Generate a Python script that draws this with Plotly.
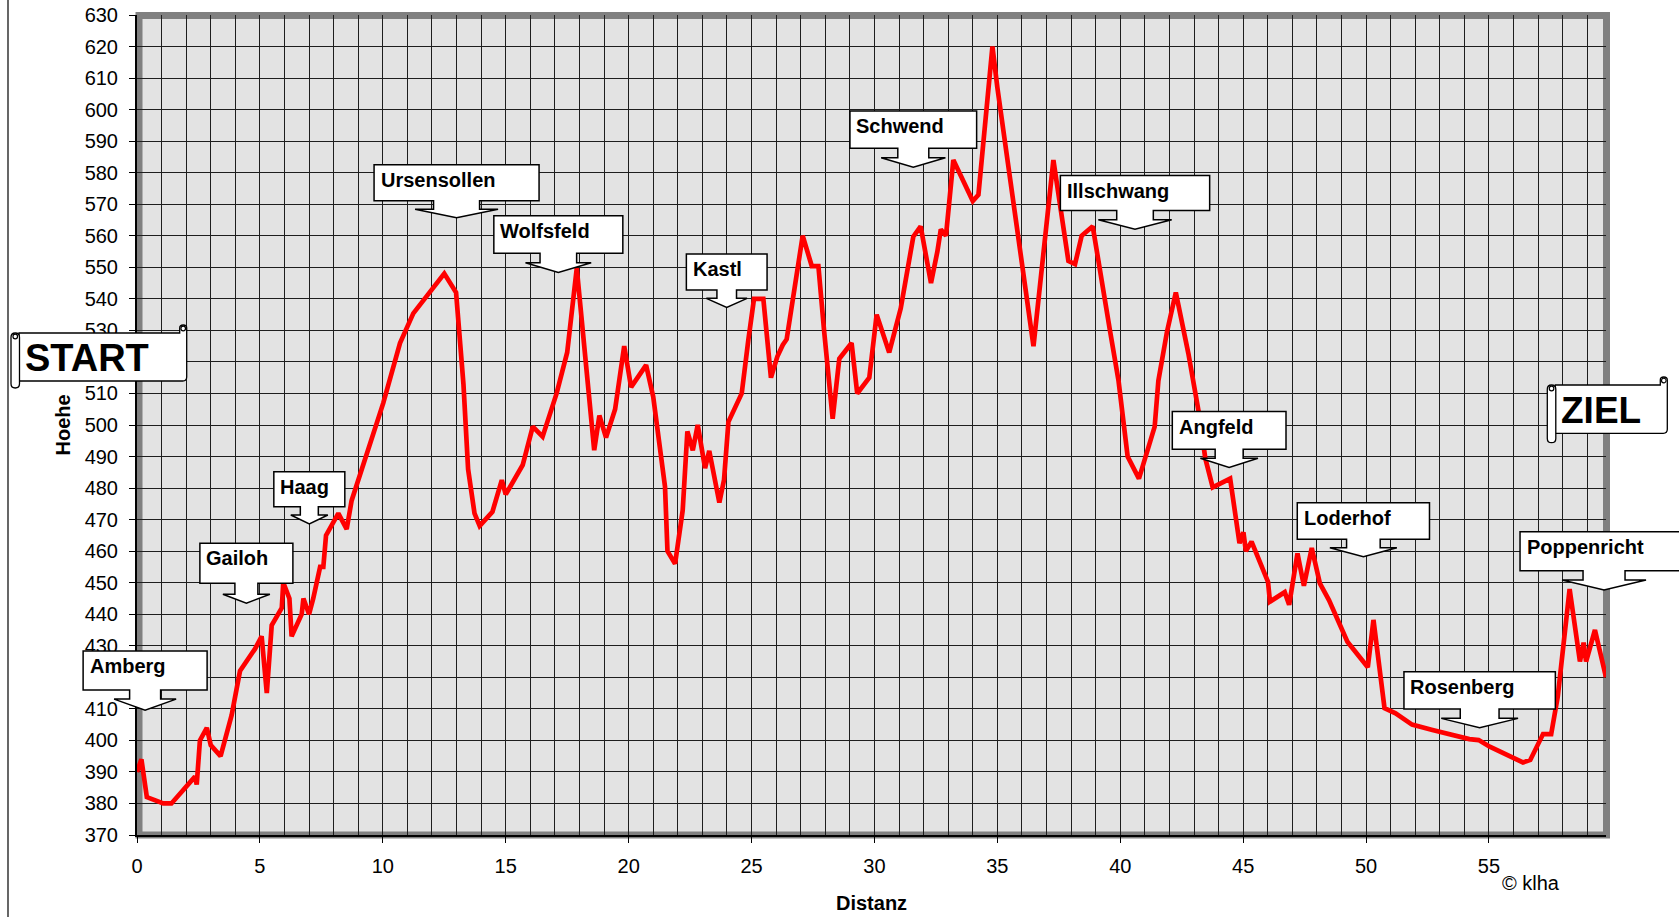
import plotly.graph_objects as go

# ---------------- data ----------------
distanz_km = [0.0, 0.18, 0.4, 1.07, 1.4, 2.36, 2.43, 2.56, 2.84, 3.0, 3.4, 3.85, 4.19, 4.8, 5.07,
              5.28, 5.48, 5.89, 5.95, 6.2, 6.29, 6.7, 6.77, 7.0, 7.17, 7.45, 7.58, 7.69, 8.19,
              8.53, 8.73, 10.02, 10.7, 11.24, 12.5, 12.98, 13.28, 13.47, 13.73, 13.94, 14.46,
              14.84, 15.0, 15.69, 16.1, 16.5, 17.07, 17.5, 17.89, 18.16, 18.6, 18.81, 19.08,
              19.45, 19.82, 20.1, 20.71, 21.0, 21.48, 21.58, 21.89, 22.2, 22.39, 22.61, 22.81,
              23.11, 23.28, 23.69, 23.88, 24.06, 24.6, 24.87, 25.1, 25.48, 25.79, 26.05, 26.27,
              26.43, 27.08, 27.45, 27.72, 27.95, 28.3, 28.57, 29.07, 29.3, 29.79, 30.09, 30.6,
              31.07, 31.58, 31.88, 32.3, 32.56, 32.7, 32.91, 33.21, 34.0, 34.23, 34.8, 35.0,
              36.47, 37.28, 37.89, 38.16, 38.43, 38.88, 39.58, 39.93, 40.3, 40.76, 41.4, 41.55,
              41.9, 42.26, 42.77, 43.2, 43.46, 43.76, 44.47, 44.85, 45.01, 45.11, 45.34, 46.01,
              46.09, 46.69, 46.87, 47.21, 47.47, 47.79, 48.12, 48.49, 49.24, 50.07, 50.3, 50.75,
              51.2, 51.87, 52.7, 54.2, 54.58, 55.03, 56.38, 56.68, 57.2, 57.53, 57.8, 58.28,
              58.7, 58.85, 58.95, 59.31, 59.76]
hoehe_m = [390, 394, 382, 380, 380, 388.5, 386, 400, 404, 398.5, 395, 408, 422, 429, 433,
           415, 436.5, 442, 450, 445, 433, 440, 445, 440, 445, 455, 455, 465, 472,
           467, 476, 507, 526, 535.4, 548, 542, 513, 486, 472, 468, 472.5,
           482.5, 478, 487.3, 499.5, 496.3, 510, 523, 549.7, 529, 492, 503, 496,
           505, 525, 512, 519, 509, 480.4, 460, 456, 473, 498, 492, 500,
           486.3, 491.8, 475.4, 482.6, 501, 510, 527, 540, 540, 515, 521.7, 525.4,
           527.2, 560, 550.4, 550.4, 530, 502, 521, 526, 510, 515, 535, 523,
           537, 559.7, 563, 545, 555, 562, 560, 584, 571, 573, 620, 607,
           525, 584, 552, 551, 560, 563, 530, 514, 490, 483, 499.5, 514,
           529.5, 542, 522.7, 503.7, 489.4, 480.2, 483, 462.5, 466, 460, 463, 450.3,
           444, 447, 443, 459.3, 449, 461, 449.8, 444.5, 431.3, 423.2, 438.2, 410.2,
           408.6, 405, 403.3, 400.4, 400.1, 398, 393, 393.8, 402, 402, 414, 448,
           425, 431, 425, 435, 420]

x_tick_vals = [0, 5, 10, 15, 20, 25, 30, 35, 40, 45, 50, 55]
y_tick_vals = list(range(370, 631, 10))

orte = ["Amberg", "Gailoh", "Haag", "Ursensollen", "Wolfsfeld", "Kastl", "Schwend",
        "Illschwang", "Angfeld", "Loderhof", "Rosenberg", "Poppenricht"]
orte_km = [0.33, 4.45, 7.01, 13.0, 17.14, 23.99, 31.58, 40.6, 44.43, 49.89, 54.62, 59.68]
orte_hoehe = [409.6, 443.5, 468.6, 565.7, 548.4, 537.3, 581.7, 562.1, 486.5, 458.2, 404.0, 447.7]

# callout geometry in pixels: box width, box height, gap box->tip, stem width, head width, head height
callout_geom = [(124, 39, 20, 31, 62, 11), (93, 40, 20, 23, 47, 9), (71, 35, 17.3, 18, 37, 9),
                (165, 36, 17, 46, 83, 8.5), (129, 37.6, 19, 36.6, 65.7, 9.6),
                (80.7, 36, 17.3, 19.6, 40.7, 9), (126.7, 37.3, 19, 31, 64.3, 9.6),
                (149.3, 35, 18.6, 36.6, 73.4, 9.3), (113.7, 37.6, 18.4, 28, 57.6, 9.4),
                (132.2, 36.3, 17.7, 33.6, 67, 9), (151.4, 37.3, 18.7, 38.8, 76.8, 9.4),
                (168, 39, 19.3, 42, 84, 10)]

# ---------------- layout constants ----------------
FIG_W, FIG_H = 1679, 917
ML, MR, MT, MB = 137, 73, 15, 82
PW, PH = FIG_W - ML - MR, FIG_H - MT - MB
X_MAX = 59.76
Y_MIN, Y_MAX = 370, 630
FONT = "Liberation Sans, Arial, sans-serif"


def d2px(km, m):
    return ML + km / X_MAX * PW, MT + (Y_MAX - m) / (Y_MAX - Y_MIN) * PH


def pp(px, py):
    return f"{(px - ML) / PW:.5f},{(MT + PH - py) / PH:.5f}"


def path(points, close=True):
    s = "M " + " L ".join(pp(x, y) for x, y in points)
    return s + (" Z" if close else "")


fig = go.Figure()
fig.add_trace(go.Scatter(x=distanz_km, y=hoehe_m, mode="lines",
                         line=dict(color="#FF0000", width=4.7), hoverinfo="skip",
                         showlegend=False))

shapes = []
annotations = []

# plot-area 3D frame
shapes.append(dict(type="rect", xref="paper", yref="paper",
                   x0=(139 - ML) / PW, x1=(1606.5 - ML) / PW,
                   y0=(MT + PH - 835) / PH, y1=(MT + PH - 15.5) / PH,
                   line=dict(color="#808080", width=7), fillcolor="rgba(0,0,0,0)",
                   layer="between"))
# chart-area left border
shapes.append(dict(type="line", xref="paper", yref="paper",
                   x0=(8 - ML) / PW, x1=(8 - ML) / PW,
                   y0=(MT + PH - 0) / PH, y1=(MT + PH - FIG_H) / PH,
                   line=dict(color="black", width=1.2), layer="above"))

# down-arrow callouts
for name, km, m, g in zip(orte, orte_km, orte_hoehe, callout_geom):
    w, h, gap, sw, hw, hh = g
    tx, ty = d2px(km, m)
    by1 = ty - gap
    by0 = by1 - h
    bx0, bx1 = tx - w / 2, tx + w / 2
    hy = ty - hh
    pts = [(bx0, by0), (bx1, by0), (bx1, by1), (tx + sw / 2, by1), (tx + sw / 2, hy),
           (tx + hw / 2, hy), (tx, ty), (tx - hw / 2, hy), (tx - sw / 2, hy),
           (tx - sw / 2, by1), (bx0, by1)]
    shapes.append(dict(type="path", xref="paper", yref="paper", path=path(pts),
                       fillcolor="white", line=dict(color="black", width=1.5), layer="above"))
    ax, ay = [float(v) for v in pp(bx0 + 4.5, by0 + 15).split(",")]
    annotations.append(dict(x=ax, y=ay, xref="paper", yref="paper", text=f"<b>{name}</b>",
                            showarrow=False, xanchor="left", yanchor="middle",
                            font=dict(family=FONT, size=20, color="black")))


def scroll(x0, x1, y0, y1, tube_x0, tube_y1, label, text_x, size):
    # body with rounded bottom-right corner and a curl at top right
    r = 4
    body = (f"M {pp(tube_x0 + 8, y0)} L {pp(x1 - 7, y0)} L {pp(x1 - 7, y0 - 5)} "
            f"Q {pp(x1 - 7, y0 - 8)} {pp(x1 - 3.5, y0 - 8)} Q {pp(x1, y0 - 8)} {pp(x1, y0 - 5)} "
            f"L {pp(x1, y1 - r)} Q {pp(x1, y1)} {pp(x1 - r, y1)} L {pp(tube_x0 + 8, y1)} Z")
    shapes.append(dict(type="path", xref="paper", yref="paper", path=body,
                       fillcolor="white", line=dict(color="black", width=1.3), layer="above"))
    # left rolled tube
    tw = 8.5
    rr = tw / 2
    tube = (f"M {pp(tube_x0, y0 + rr)} Q {pp(tube_x0, y0)} {pp(tube_x0 + rr, y0)} "
            f"Q {pp(tube_x0 + tw, y0)} {pp(tube_x0 + tw, y0 + rr)} "
            f"L {pp(tube_x0 + tw, tube_y1 - rr)} Q {pp(tube_x0 + tw, tube_y1)} {pp(tube_x0 + rr, tube_y1)} "
            f"Q {pp(tube_x0, tube_y1)} {pp(tube_x0, tube_y1 - rr)} Z")
    shapes.append(dict(type="path", xref="paper", yref="paper", path=tube,
                       fillcolor="white", line=dict(color="black", width=1.3), layer="above"))
    for cx, cy in [(tube_x0 + rr, y0 + 3.5), (x1 - 3.5, y0 - 4.5)]:
        shapes.append(dict(type="circle", xref="paper", yref="paper",
                           x0=(cx - 2.3 - ML) / PW, x1=(cx + 2.3 - ML) / PW,
                           y0=(MT + PH - (cy + 2.3)) / PH, y1=(MT + PH - (cy - 2.3)) / PH,
                           fillcolor="white", line=dict(color="black", width=1.2), layer="above"))
    ax, ay = [float(v) for v in pp(text_x, (y0 + y1) / 2 + 1).split(",")]
    annotations.append(dict(x=ax, y=ay, xref="paper", yref="paper", text=f"<b>{label}</b>",
                            showarrow=False, xanchor="left", yanchor="middle",
                            font=dict(family=FONT, size=size, color="black")))


scroll(19, 186.7, 333, 381, 11, 388, "START", 23, 38)
scroll(1556, 1667.3, 385, 433.3, 1547.3, 442.7, "ZIEL", 1559, 37)

# axis titles and credit
annotations.append(dict(x=(62.5 - ML) / PW, y=0.5, xref="paper", yref="paper",
                        text="<b>Hoehe</b>", textangle=-90, showarrow=False,
                        xanchor="center", yanchor="middle",
                        font=dict(family=FONT, size=20, color="black")))
annotations.append(dict(x=0.5, y=(MT + PH - 903) / PH, xref="paper", yref="paper",
                        text="<b>Distanz</b>", showarrow=False,
                        xanchor="center", yanchor="middle",
                        font=dict(family=FONT, size=20, color="black")))
annotations.append(dict(x=(1530.5 - ML) / PW, y=(MT + PH - 882.7) / PH, xref="paper",
                        yref="paper", text="© klha", showarrow=False,
                        xanchor="center", yanchor="middle",
                        font=dict(family=FONT, size=20, color="black")))

GRID = "#1e1e1e"
fig.update_layout(
    width=FIG_W, height=FIG_H, autosize=False,
    margin=dict(l=ML, r=MR, t=MT, b=MB, pad=0),
    paper_bgcolor="white", plot_bgcolor="#E3E3E3",
    font=dict(family=FONT, size=20, color="black"),
    showlegend=False,
    shapes=shapes, annotations=annotations,
    xaxis=dict(range=[0, X_MAX], tickvals=x_tick_vals, ticktext=[str(v) for v in x_tick_vals],
               automargin=False,
               showgrid=True, gridcolor=GRID, gridwidth=1, zeroline=False,
               showline=True, linecolor="black", linewidth=2,
               ticks="outside", ticklen=6, tickcolor="black", tickwidth=1,
               ticklabelstandoff=6,
               minor=dict(dtick=1, tick0=0, showgrid=True, gridcolor=GRID, gridwidth=1, ticks=""),
               tickfont=dict(family=FONT, size=20, color="black"), fixedrange=True),
    yaxis=dict(range=[Y_MIN, Y_MAX], tickvals=y_tick_vals, ticktext=[str(v) for v in y_tick_vals],
               automargin=False,
               showgrid=True, gridcolor=GRID, gridwidth=1, zeroline=False,
               showline=True, linecolor="black", linewidth=2,
               ticks="outside", ticklen=6, tickcolor="black", tickwidth=1,
               ticklabelstandoff=7,
               tickfont=dict(family=FONT, size=20, color="black"), fixedrange=True),
)

fig.write_html("out.html", include_plotlyjs=True, config={"displayModeBar": False},
               post_script="document.body.style.margin='0';document.body.style.overflow='hidden';")
